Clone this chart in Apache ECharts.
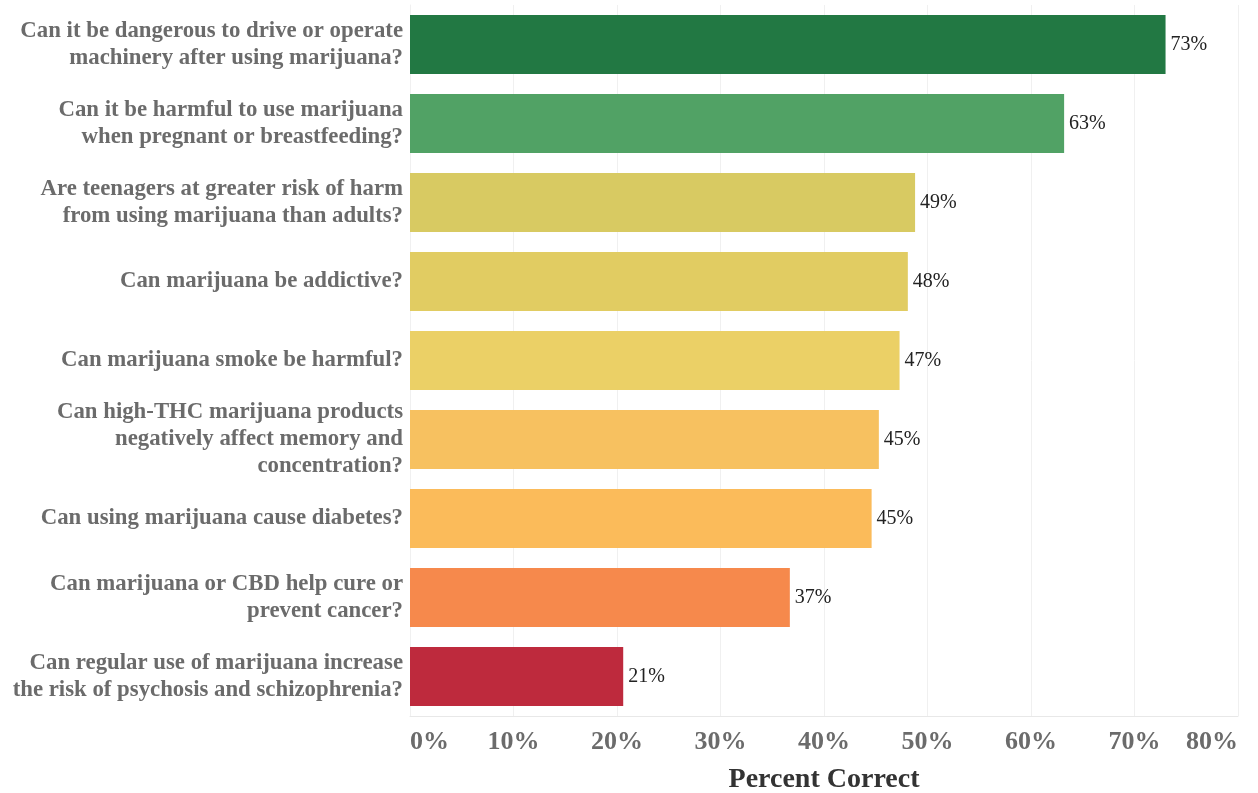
<!DOCTYPE html>
<html>
<head>
<meta charset="utf-8">
<script src="https://cdn.jsdelivr.net/npm/echarts@6/dist/echarts.min.js"></script>
<style>
  html, body { margin: 0; padding: 0; background: #fff; }
  #chart { width: 1258px; height: 793px; }
</style>
</head>
<body>
<div id="chart"></div>
<script>
// questions, top to bottom
const questions = [
  'Can it be dangerous to drive or operate\nmachinery after using marijuana?',
  'Can it be harmful to use marijuana\nwhen pregnant or breastfeeding?',
  'Are teenagers at greater risk of harm\nfrom using marijuana than adults?',
  'Can marijuana be addictive?',
  'Can marijuana smoke be harmful?',
  'Can high-THC marijuana products\nnegatively affect memory and\nconcentration?',
  'Can using marijuana cause diabetes?',
  'Can marijuana or CBD help cure or\nprevent cancer?',
  'Can regular use of marijuana increase\nthe risk of psychosis and schizophrenia?'
]
// percent correct
const percentCorrect = [73.0, 63.2, 48.8, 48.1, 47.3, 45.3, 44.6, 36.7, 20.6]
const barColors = ['#227843', '#51a265', '#d8ca62', '#e1cc62', '#ebd066', '#f7c160', '#fbbb5a', '#f6894c', '#be2a3d']

const chart = echarts.init(document.getElementById('chart'))

const option = {
  animation: false,
  grid: { left: 410, right: 20, top: 5, bottom: 77, outerBoundsMode: 'none', containLabel: false },
  xAxis: {
    type: 'value',
    min: 0,
    max: 80,
    interval: 10,
    name: 'Percent Correct',
    nameLocation: 'middle',
    nameGap: 50,
    nameTextStyle: {
      fontFamily: 'Liberation Serif',
      fontWeight: 'bold',
      fontSize: 28,
      color: '#333'
    },
    axisLine: { show: true, lineStyle: { color: '#e8e8e8' } },
    axisTick: { show: false },
    splitLine: { lineStyle: { color: '#f0f0f0' } },
    axisLabel: {
      formatter: '{value}%',
      margin: 13,
      fontFamily: 'Liberation Serif',
      fontWeight: 'bold',
      fontSize: 26,
      color: '#6b6b6b',
      alignMinLabel: 'left',
      alignMaxLabel: 'right'
    }
  },
  yAxis: {
    type: 'category',
    inverse: true,
    data: questions,
    axisLine: { show: true, lineStyle: { color: '#f0f0f0' } },
    axisTick: { show: false },
    axisLabel: {
      margin: 7,
      fontFamily: 'Liberation Serif',
      fontWeight: 'bold',
      fontSize: 22.8,
      lineHeight: 27,
      color: '#6b6b6b',
      align: 'right'
    }
  },
  series: [{
    type: 'bar',
    barWidth: 59,
    data: percentCorrect.map((v, i) => ({
      value: v,
      itemStyle: { color: barColors[i] }
    })),
    label: {
      show: true,
      position: 'right',
      distance: 5,
      formatter: p => Math.round(p.value) + '%',
      fontFamily: 'Liberation Serif',
      fontSize: 20,
      padding: [4, 0, 0, 0],
      color: '#222'
    }
  }]
}

chart.setOption(option)
</script>
</body>
</html>
